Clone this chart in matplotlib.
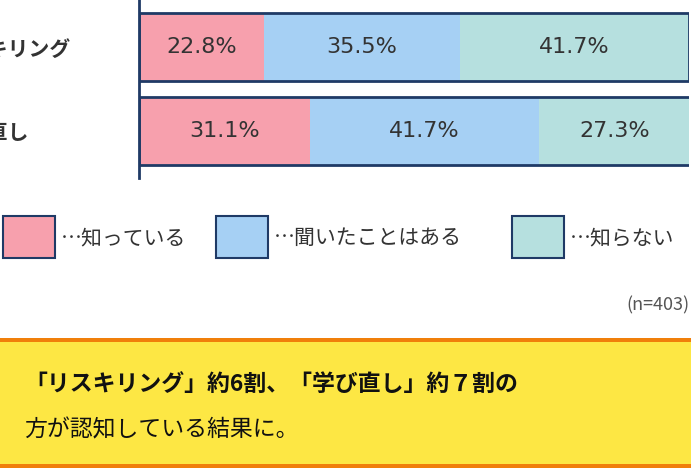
import matplotlib
matplotlib.use("Agg")
import matplotlib.pyplot as plt
from matplotlib.patches import Rectangle
import numpy as np

plt.rcParams['font.family'] = ['Noto Sans CJK JP', 'DejaVu Sans']

categories = ["リスキリング", "学び直し"]
series_names = ["…知っている", "…聞いたことはある", "…知らない"]
values = np.array([[22.8, 35.5, 41.7],
                   [31.1, 41.7, 27.3]])
colors = ["#F7A0AD", "#A6D0F4", "#B6E0DF"]
navy = "#1F3A66"
txt = "#333333"

W, H = 691, 469
fig = plt.figure(figsize=(W/100, H/100), dpi=100)
ax = fig.add_axes([139/W, 1-178/H, 550/W, 178/H])
ax.set_xlim(0, 100)
ax.set_ylim(1.56, -0.56)
y = np.arange(len(categories))
left = np.zeros(len(categories))
for j in range(values.shape[1]):
    ax.barh(y, values[:, j], left=left, height=0.81, color=colors[j], edgecolor='none')
    for i in range(len(categories)):
        ax.text(left[i]+values[i, j]/2, y[i], f"{values[i, j]:.1f}%", ha='center', va='center',
                fontsize=16, color=txt, family=['DejaVu Sans'])
    left += values[:, j]
for i in range(len(categories)):
    tot = values[i].sum()
    ax.add_patch(Rectangle((0, y[i]-0.405), tot, 0.81, fill=False, edgecolor=navy, lw=2))
for s in ['top', 'right', 'bottom']:
    ax.spines[s].set_visible(False)
ax.spines['left'].set_color(navy)
ax.spines['left'].set_linewidth(2)
ax.set_xticks([])
ax.set_yticks(y)
ax.set_yticklabels(categories, fontsize=15, fontweight='bold', color=txt, ha='left')
ax.tick_params(axis='y', length=0, pad=139)

# legend
lx = [3, 216, 512]
for k, name in enumerate(series_names):
    fig.patches.append(Rectangle((lx[k]/W, 1-258/H), 52/W, 42/H, transform=fig.transFigure,
                                 facecolor=colors[k], edgecolor=navy, lw=1.5))
    fig.text((lx[k]+58)/W, 1-238/H, name, fontsize=15, color=txt, va='center')

fig.text(689/W, 1-305/H, "(n=403)", fontsize=13, color='#555555', ha='right', va='center')

# note box
fig.patches.append(Rectangle((0, 1-468/H), 1, 129/H, transform=fig.transFigure,
                             facecolor="#FDE744", edgecolor='none'))
for yy in [340, 466]:
    fig.patches.append(Rectangle((0, 1-(yy+2)/H), 1, 4/H, transform=fig.transFigure,
                                 facecolor="#F07F0A", edgecolor='none'))
fig.text(24/W, 1-384/H, "「リスキリング」約6割、「学び直し」約７割の", fontsize=16.5,
         fontweight='bold', color='#111111', va='center')
fig.text(24/W, 1-430/H, "方が認知している結果に。", fontsize=16.5, color='#111111', va='center')

fig.savefig("out.png", dpi=100)
